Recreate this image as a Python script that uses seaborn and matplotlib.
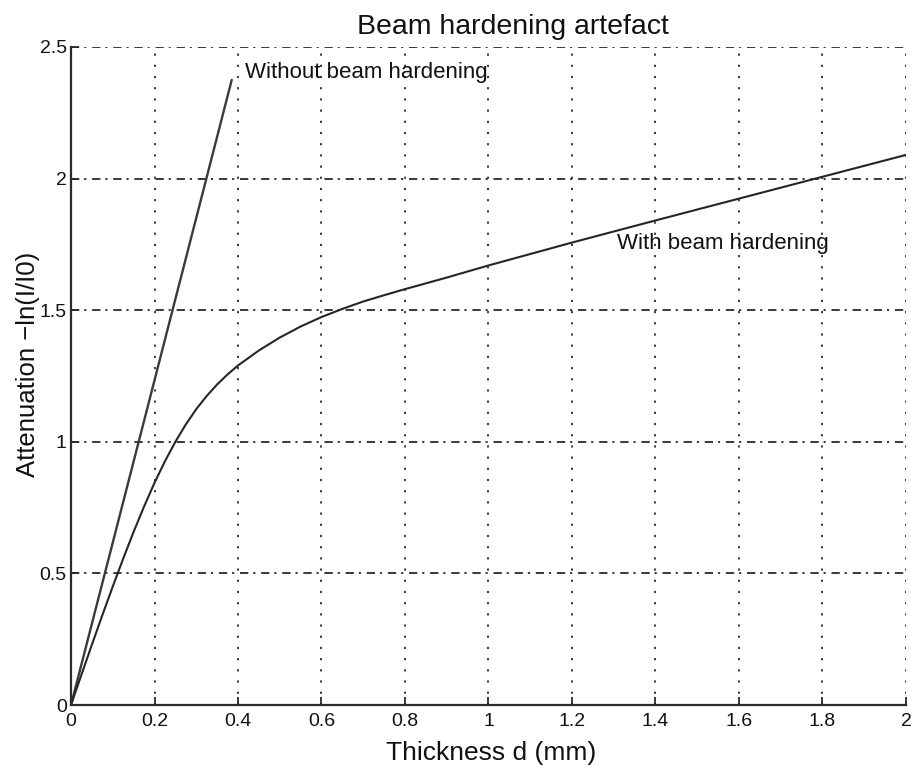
import matplotlib
matplotlib.use("Agg")
import matplotlib.pyplot as plt
import seaborn as sns
import pandas as pd

# Data
without_x = [0.0, 0.385]
without_y = [0.0, 2.375]

with_x = [0.0, 0.025, 0.05, 0.075, 0.1, 0.125, 0.15, 0.175, 0.2, 0.225, 0.25,
          0.275, 0.3, 0.325, 0.35, 0.375, 0.4, 0.45, 0.5, 0.55, 0.6, 0.65,
          0.7, 0.75, 0.8, 0.9, 1.0, 1.2, 1.4, 1.6, 1.8, 2.0]
with_y = [0.0, 0.115, 0.229, 0.341, 0.450, 0.556, 0.658, 0.754, 0.844, 0.926,
          1.000, 1.066, 1.124, 1.174, 1.218, 1.256, 1.290, 1.347, 1.396, 1.438,
          1.474, 1.505, 1.533, 1.557, 1.580, 1.624, 1.670, 1.757, 1.841, 1.924,
          2.007, 2.090]

x_ticks = [0, 0.2, 0.4, 0.6, 0.8, 1, 1.2, 1.4, 1.6, 1.8, 2]
x_tick_labels = ["0", "0.2", "0.4", "0.6", "0.8", "1", "1.2", "1.4", "1.6", "1.8", "2"]
y_ticks = [0, 0.5, 1, 1.5, 2, 2.5]
y_tick_labels = ["0", "0.5", "1", "1.5", "2", "2.5"]

title = "Beam hardening artefact"
xlabel = "Thickness d (mm)"
ylabel = "Attenuation \u2212ln(I/I0)"
label_without = "Without beam hardening"
label_with = "With beam hardening"

sns.set_style("ticks")
plt.rcParams['font.family'] = ['Liberation Sans', 'DejaVu Sans']

fig = plt.figure(figsize=(9.11, 7.65), dpi=100)
ax = fig.add_axes([71/911, 1-705/765, (906-71)/911, (705-47)/765])

df_without = pd.DataFrame({"x": without_x, "y": without_y})
df_with = pd.DataFrame({"x": with_x, "y": with_y})

sns.lineplot(data=df_without, x="x", y="y", ax=ax, color="#3a3a3a", lw=1.7,
             estimator=None, sort=False)
sns.lineplot(data=df_with, x="x", y="y", ax=ax, color="#262626", lw=1.5,
             estimator=None, sort=False)

ax.set_xlim(0, 2)
ax.set_ylim(0, 2.5)
ax.set_xticks(x_ticks)
ax.set_xticklabels(x_tick_labels)
ax.set_yticks(y_ticks)
ax.set_yticklabels(y_tick_labels)

# MATLAB-like grid: dotted verticals, dash-dot horizontals
for xv in x_ticks[1:]:
    ax.axvline(xv, color="#2a2a2a", lw=1.3, linestyle=(0, (1.2, 5.0)), zorder=0)
for yv in y_ticks[1:]:
    ax.axhline(yv, color="#2a2a2a", lw=1.3, linestyle=(0, (4.6, 2.7, 1.2, 3.2)), zorder=0)

for s in ["top", "right"]:
    ax.spines[s].set_visible(False)
for s in ["left", "bottom"]:
    ax.spines[s].set_linewidth(1.6)
    ax.spines[s].set_color("#2a2a2a")

ax.tick_params(direction="in", length=6, width=1.3, labelsize=14, pad=3, colors="#2a2a2a",
               labelcolor="#111111")
ax.tick_params(axis="x", pad=6)

ax.set_title(title, fontsize=20.5, pad=9, x=0.529, color="#111111")
ax.set_xlabel(xlabel, fontsize=19, color="#111111")
ax.set_ylabel(ylabel, fontsize=18.5, color="#111111")
ax.xaxis.set_label_coords(0.503, -0.054)
ax.yaxis.set_label_coords(-0.037, 0.5175)

ax.text(0.417, 2.405, label_without, fontsize=16, ha="left", va="center", color="#111111")
ax.text(1.308, 1.755, label_with, fontsize=16, ha="left", va="center", color="#111111")

fig.savefig("out.png", dpi=100)
